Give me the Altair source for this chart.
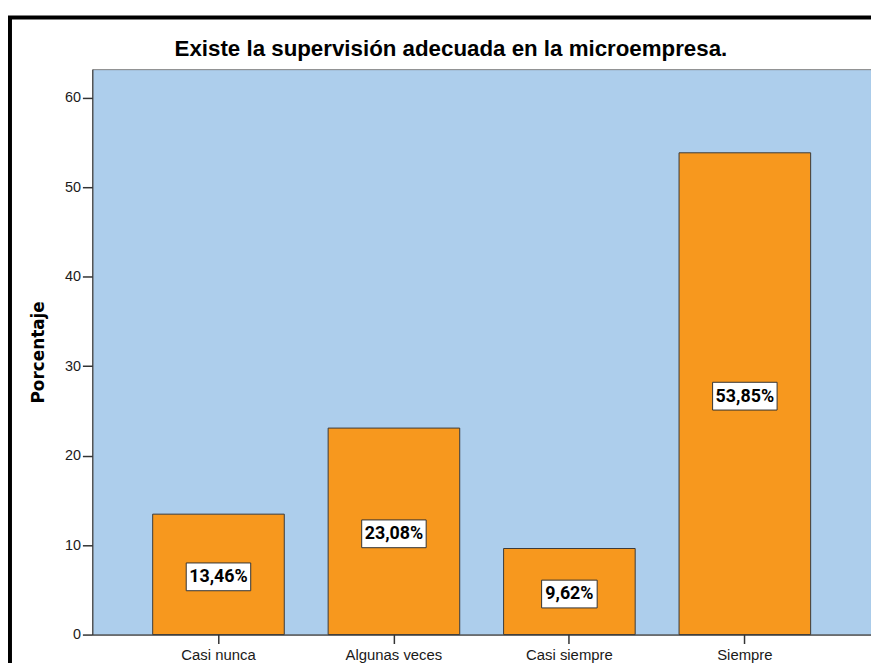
import altair as alt
import pandas as pd

categories = ["Casi nunca", "Algunas veces", "Casi siempre", "Siempre"]
percentages = [13.46, 23.08, 9.62, 53.85]
value_labels = ["13,46%", "23,08%", "9,62%", "53,85%"]
y_ticks = [0, 10, 20, 30, 40, 50, 60]
title_text = "Existe la supervisión adecuada en la microempresa."
y_title = "Porcentaje"

df = pd.DataFrame({"categoria": categories, "porcentaje": percentages, "etiqueta": value_labels})

x_scale = alt.Scale(paddingInner=0.25, paddingOuter=0.344)
y_scale = alt.Scale(domain=[0, 63.2], nice=False, zero=True)

x_axis = alt.Axis(
    title="", labelAngle=0, tickSize=9, labelPadding=4, labelFontSize=15,
    labelFont="Liberation Sans", labelColor="#1a1a1a", tickColor="#333333",
    domainColor="#333333", tickWidth=1.5, domainWidth=1,
)
y_axis = alt.Axis(
    values=y_ticks, tickSize=10, labelPadding=2, labelFontSize=14.5,
    labelFont="Liberation Sans", labelColor="#1a1a1a", tickColor="#333333",
    domainColor="#333333", tickWidth=1.5, domainWidth=1,
    title=y_title, titleFont="DejaVu Sans", titleFontSize=17, titleFontWeight="bold",
    titleColor="black", titleX=-54, titleY=285, titleBaseline="middle",
    titleAngle=270, titleAlign="center",
)

base = alt.Chart(df)

bars = base.mark_bar(fill="#F7981E", stroke="#3a3a3a", strokeWidth=1).encode(
    x=alt.X("categoria:N", sort=categories, scale=x_scale, axis=x_axis),
    y=alt.Y("porcentaje:Q", scale=y_scale, axis=y_axis, title=y_title),
)

mid = base.transform_calculate(mitad="datum.porcentaje / 2")

def box(cond, w):
    return mid.transform_filter(cond).mark_bar(
        width=w, fill="white", stroke="#333333", strokeWidth=1, yOffset=-11.5, y2Offset=16.5
    ).encode(
        x=alt.X("categoria:N", sort=categories, scale=x_scale, axis=x_axis),
        y=alt.Y("mitad:Q", scale=y_scale, axis=y_axis, title=y_title),
        y2=alt.Y2("mitad:Q"),
    )

box_wide = box("length(datum.etiqueta) >= 6", 65)
box_narrow = box("length(datum.etiqueta) < 6", 56)

texts = mid.mark_text(
    font="Roboto", fontWeight="bold", fontSize=18, baseline="middle", align="center",
    dy=3, color="black",
).encode(
    x=alt.X("categoria:N", sort=categories, scale=x_scale, axis=x_axis),
    y=alt.Y("mitad:Q", scale=y_scale, axis=y_axis, title=y_title),
    text="etiqueta:N",
)

frame = base.transform_aggregate(n="count()").mark_rect(
    fill="transparent", stroke="black", strokeWidth=4
).encode(
    x=alt.value(-83), x2=alt.value(800), y=alt.value(-52), y2=alt.value(620)
)

chart = alt.layer(frame, bars, box_wide, box_narrow, texts).properties(
    width=785,
    height=570,
    autosize=alt.AutoSizeParams(type="none"),
    padding={"left": 85, "top": 59, "right": 0, "bottom": 26},
    title=alt.Title(
        text=title_text, font="Liberation Sans", fontSize=22.5, fontWeight="bold",
        color="black", anchor="middle", frame="group", dx=-31, offset=10, dy=73,
        baseline="alphabetic",
    ),
).configure_view(
    fill="#ADCEEC", stroke="#7F7F7F", strokeWidth=1
).configure_axis(grid=False)

chart.save("out.html", embed_options={"renderer": "svg", "actions": False})
